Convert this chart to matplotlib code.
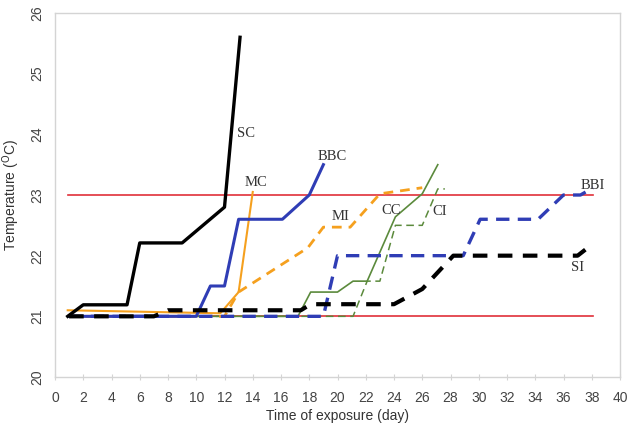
import matplotlib
matplotlib.use("Agg")
import matplotlib.pyplot as plt

# ---- data (day, temperature in °C) ----
sc_day = [0.9, 2, 5.1, 6, 9, 12, 13.1]
sc_t = [21.0, 21.19, 21.19, 22.21, 22.21, 22.8, 25.6]

bbc_day = [1, 10, 11, 12, 13, 16.1, 18, 19]
bbc_t = [21.0, 21.0, 21.5, 21.5, 22.6, 22.6, 23.0, 23.5]

mc_day = [0.9, 11.7, 13, 14]
mc_t = [21.1, 21.05, 21.4, 23.05]

mi_day = [1, 12, 13, 17.9, 19, 20.9, 23, 26]
mi_t = [21.0, 21.0, 21.4, 22.13, 22.47, 22.47, 23.02, 23.12]

cc_day = [1, 17.2, 18.1, 20, 21.1, 22.1, 24.1, 26, 27.1]
cc_t = [21.0, 21.0, 21.4, 21.4, 21.58, 21.58, 22.64, 23.02, 23.5]

ci_day = [1, 21.1, 22.1, 23.0, 24.1, 26, 27.1, 27.6]
ci_t = [21.0, 21.0, 21.58, 21.58, 22.5, 22.5, 23.1, 23.1]

bbi_day = [1, 19, 20, 28.9, 30.1, 34.2, 36, 37.2, 38.1]
bbi_t = [21.0, 21.0, 22.0, 22.0, 22.6, 22.6, 23.0, 23.0, 23.12]

si_day = [1, 7, 8, 17.4, 18.1, 24, 26, 27.2, 28.2, 37, 38.1]
si_t = [21.0, 21.0, 21.1, 21.1, 21.2, 21.2, 21.45, 21.75, 22.0, 22.0, 22.2]

limit_day = [0.9, 38.1]
upper_limit = [23.0, 23.0]
lower_limit = [21.0, 21.0]

x_ticks = list(range(0, 41, 2))
y_ticks = [20, 21, 22, 23, 24, 25, 26]

labels = ["SC", "MC", "BBC", "MI", "CC", "CI", "BBI", "SI"]
label_day = [12.9, 13.45, 18.6, 19.55, 23.1, 26.7, 37.2, 36.5]
label_t = [24.02, 23.2, 23.63, 22.64, 22.75, 22.72, 23.16, 21.8]

# ---- figure ----
fig = plt.figure(figsize=(6.33, 4.23), dpi=100)
ax = fig.add_axes([55 / 633, 1 - 377 / 423, (620 - 55) / 633, (377 - 13) / 423])

red = "#e0303a"
blue = "#2f3db5"
orange = "#f5a01e"
green = "#5b8a3c"

ax.plot(limit_day, upper_limit, color=red, lw=1.2, zorder=1)
ax.plot(limit_day, lower_limit, color=red, lw=1.2, zorder=1)

ax.plot(ci_day, ci_t, color=green, lw=1.1, dashes=(5, 3), zorder=2)
ax.plot(cc_day, cc_t, color=green, lw=1.2, zorder=2)
ax.plot(mi_day, mi_t, color=orange, lw=2.0, dashes=(3.5, 2.5), zorder=3)
ax.plot(mc_day, mc_t, color=orange, lw=1.5, zorder=3)
ax.plot(bbi_day, bbi_t, color=blue, lw=2.4, dashes=(4, 2.5), zorder=4)
ax.plot(bbc_day, bbc_t, color=blue, lw=2.2, zorder=4)
ax.plot(si_day, si_t, color="black", lw=3.0, dashes=(3.5, 2.5), zorder=5)
ax.plot(sc_day, sc_t, color="black", lw=2.4, zorder=6)

for lab, d, t in zip(labels, label_day, label_t):
    ax.text(d, t, lab, family="Liberation Serif", fontsize=10.5,
            color="#333333", ha="left", va="center", zorder=7)

ax.set_xlim(0, 40)
ax.set_ylim(20, 26)
ax.set_xticks(x_ticks)
ax.set_yticks(y_ticks)

for s in ax.spines.values():
    s.set_color("#d4d4d4")
    s.set_linewidth(1.0)

ax.tick_params(axis="x", direction="inout", length=4, color="#d4d4d4",
               labelsize=10, labelcolor="#444444", pad=8)
ax.tick_params(axis="y", length=0, labelsize=10, labelcolor="#444444", pad=8)
for lab in ax.get_xticklabels() + ax.get_yticklabels():
    lab.set_family("Liberation Sans")
for lab in ax.get_yticklabels():
    lab.set_rotation(90)
    lab.set_va("center")

ax.set_xlabel("Time of exposure (day)", family="Liberation Sans", fontsize=10,
              color="#333333", labelpad=3)
ax.set_ylabel(r"Temperature ($^{\rm O}$C)", family="Liberation Sans", fontsize=10,
              color="#333333", labelpad=6)

fig.savefig("out.png", dpi=100)
